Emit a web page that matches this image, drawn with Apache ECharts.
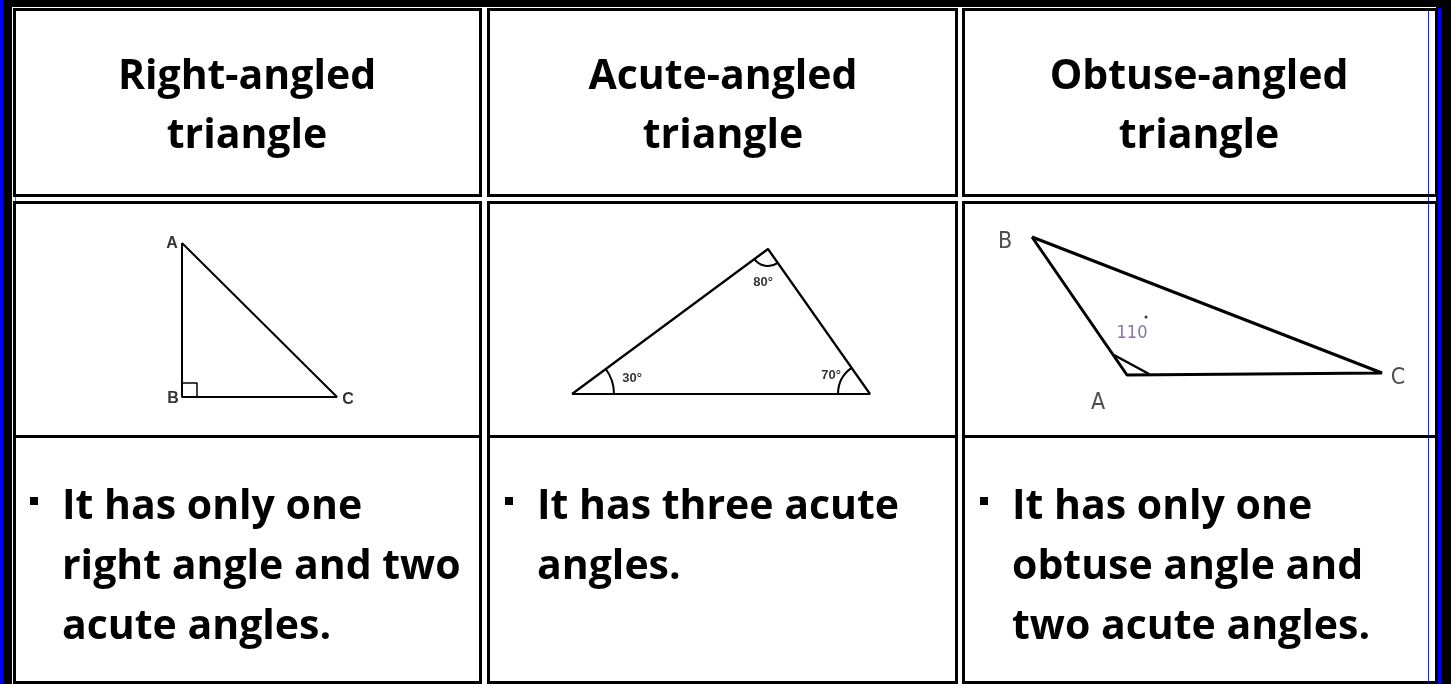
<!DOCTYPE html>
<html><head><meta charset="utf-8">
<script src="https://cdn.jsdelivr.net/npm/echarts@6/dist/echarts.min.js"></script>
<style>html,body{margin:0;padding:0;background:#000;}#c{width:1451px;height:684px;}</style>
</head><body><div id="c"></div>
<script>
// ---------- data ----------
const headerLines = [['Right-angled', 'triangle'], ['Acute-angled', 'triangle'], ['Obtuse-angled', 'triangle']];
const descriptionLines = [
  ['It has only one', 'right angle and two', 'acute angles.'],
  ['It has three acute', 'angles.'],
  ['It has only one', 'obtuse angle and', 'two acute angles.']
];
// right-angled triangle: A, B, C (diagram units, y up)
const rightTriangle = [[22, 167], [22, 13], [177, 13]];
const rightAngleMark = [[22, 27], [37, 27], [37, 13]];
const rightLabels = [['A', 12, 166], ['B', 13, 11], ['C', 188, 10]];
// acute-angled triangle: left, top, right
const acuteTriangle = [[12, 16], [208, 161], [310, 16]];
const acuteAngleLabels = [['30°', 72, 32], ['80°', 203, 128], ['70°', 271, 35]];
// obtuse-angled triangle: B, A, C
const obtuseTriangle = [[42, 178], [137, 40], [392, 42]];
const obtuseAngleMark = [[124, 60], [159, 41]];
const obtuseLabels = [['B', 15, 173], ['A', 108, 12], ['C', 408, 37]];
const obtuseAngleLabel = [['110', 142, 82]];
const obtuseDegreeDot = [[156, 98]];

// ---------- layout / style ----------
const L = {
  grids: [
    { left: 160, top: 230, width: 200, height: 180 },
    { left: 560, top: 240, width: 320, height: 170 },
    { left: 990, top: 215, width: 430, height: 200 }
  ],
  cols: [[13, 482], [487, 958], [962, 1438]],
  headerRow: [8, 197],
  lowerRow: [201, 684],
  midLine: 436.5,
  border: 3,
  headerCenters: [247, 723, 1199],
  headerY: [77, 136],
  bodyX: [62, 537, 1012],
  bulletX: [30, 505, 980],
  bodyY: [507, 567, 627],
  arcR: [42, 17, 32],
  titleFont: 'bold 41px "Comic Sans MS", "Open Sans", sans-serif'
};

const chart = echarts.init(document.getElementById('c'), null, { renderer: 'canvas' });

const graphic = [];
graphic.push({ type: 'rect', z: -10, shape: { x: 0, y: 0, width: 3, height: 684 }, style: { fill: '#0000ff' } });
graphic.push({ type: 'rect', z: -10, shape: { x: 12, y: 7, width: 1424, height: 677 }, style: { fill: '#ffffff' } });
graphic.push({ type: 'rect', z: -10, shape: { x: 1438, y: 8, width: 3, height: 676 }, style: { fill: '#0000ff' } });
graphic.push({ type: 'rect', z: -9, shape: { x: 15, y: 11, width: 1, height: 673 }, style: { fill: '#6a6aff' } });
graphic.push({ type: 'rect', z: -9, shape: { x: 1428, y: 11, width: 1, height: 673 }, style: { fill: '#2020ff' } });

const b = L.border;
L.cols.forEach(([x0, x1], i) => {
  [L.headerRow, L.lowerRow].forEach(([y0, y1]) => {
    graphic.push({ type: 'rect', z: -8, shape: { x: x0 + b / 2, y: y0 + b / 2, width: x1 - x0 - b, height: y1 - y0 - b },
      style: { fill: null, stroke: '#000', lineWidth: b } });
  });
  graphic.push({ type: 'line', z: -8, shape: { x1: x0, y1: L.midLine, x2: x1, y2: L.midLine }, style: { stroke: '#000', lineWidth: b } });
  headerLines[i].forEach((t, k) => {
    graphic.push({ type: 'text', z: 5, x: L.headerCenters[i], y: L.headerY[k],
      style: { text: t, font: L.titleFont, fill: '#000', textAlign: 'center', textVerticalAlign: 'middle' } });
  });
  graphic.push({ type: 'rect', z: 5, shape: { x: L.bulletX[i], y: 497, width: 8, height: 8 }, style: { fill: '#000' } });
  descriptionLines[i].forEach((t, k) => {
    graphic.push({ type: 'text', z: 5, x: L.bodyX[i], y: L.bodyY[k],
      style: { text: t, font: L.titleFont, fill: '#000', textAlign: 'left', textVerticalAlign: 'middle' } });
  });
});

const closed = a => a.concat([a[0]]);
const lineS = (data, gi, w) => ({ type: 'line', xAxisIndex: gi, yAxisIndex: gi, data: data, symbol: 'none',
  lineStyle: { color: '#000', width: w }, silent: true, z: 3 });
const labelS = (arr, gi, size, weight, family, color) => ({ type: 'scatter', xAxisIndex: gi, yAxisIndex: gi, symbolSize: 0, silent: true, z: 4,
  data: arr.map(d => ({ name: d[0], value: [d[1], d[2]] })),
  label: { show: true, position: 'inside', formatter: '{b}', color: color, fontSize: size, fontWeight: weight, fontFamily: family } });

function arcItem(params, api) {
  const idx = api.value(0);
  const p = api.coord(acuteTriangle[idx]);
  const n1 = api.coord(acuteTriangle[(idx + 1) % 3]);
  const n2 = api.coord(acuteTriangle[(idx + 2) % 3]);
  let a1 = Math.atan2(n1[1] - p[1], n1[0] - p[0]);
  let a2 = Math.atan2(n2[1] - p[1], n2[0] - p[0]);
  let d = a2 - a1;
  while (d < 0) d += 2 * Math.PI;
  if (d > Math.PI) { const t = a1; a1 = a2; a2 = t; }
  return { type: 'arc', shape: { cx: p[0], cy: p[1], r: L.arcR[idx], startAngle: a1, endAngle: a2, clockwise: true },
    style: { stroke: '#000', fill: null, lineWidth: 2 } };
}

const arial = '"Liberation Sans", Arial, sans-serif';
const narrow = '"Liberation Sans Narrow", "DejaVu Sans Condensed", sans-serif';
const option = {
  animation: false,
  backgroundColor: '#000',
  grid: L.grids.map(g => Object.assign({ containLabel: false, show: false }, g)),
  xAxis: L.grids.map((g, i) => ({ type: 'value', gridIndex: i, min: 0, max: g.width, show: false })),
  yAxis: L.grids.map((g, i) => ({ type: 'value', gridIndex: i, min: 0, max: g.height, show: false })),
  graphic: graphic,
  series: [
    lineS(closed(rightTriangle), 0, 2),
    lineS(rightAngleMark, 0, 1.5),
    labelS(rightLabels, 0, 16, 'bold', arial, '#000'),
    lineS(closed(acuteTriangle), 1, 2.2),
    { type: 'custom', xAxisIndex: 1, yAxisIndex: 1, data: [[0], [1], [2]], renderItem: arcItem, silent: true, z: 3 },
    labelS(acuteAngleLabels, 1, 13, 'bold', arial, '#000'),
    lineS(closed(obtuseTriangle), 2, 3),
    lineS(obtuseAngleMark, 2, 2.5),
    labelS(obtuseLabels, 2, 23, 'normal', narrow, '#222'),
    labelS(obtuseAngleLabel, 2, 18, 'normal', narrow, '#6b4f8c'),
    { type: 'scatter', xAxisIndex: 2, yAxisIndex: 2, data: obtuseDegreeDot, symbolSize: 3, itemStyle: { color: '#000' }, silent: true, z: 4 }
  ]
};
chart.setOption(option);
</script></body></html>
